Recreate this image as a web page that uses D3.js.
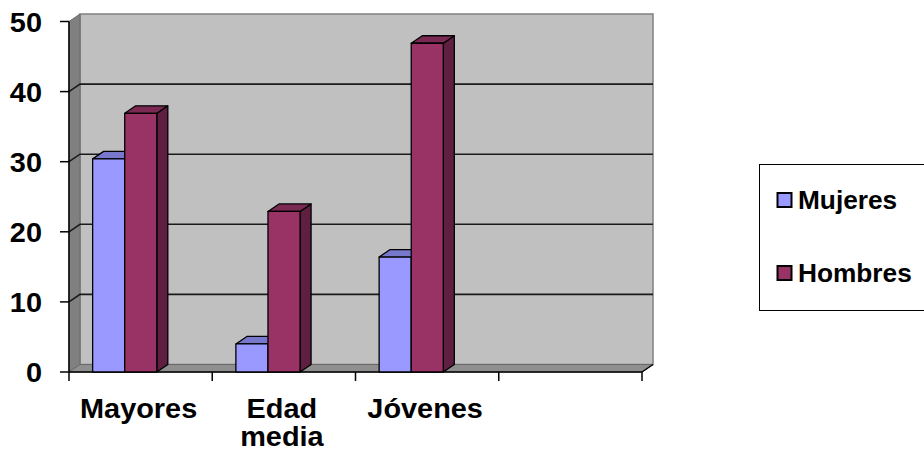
<!DOCTYPE html>
<html>
<head>
<meta charset="utf-8">
<script src="https://cdn.jsdelivr.net/npm/d3@7"></script>
<style>
  body { margin: 0; background: #fff; }
  svg { display: block; }
  text { font-family: "Liberation Sans", Arial, sans-serif; font-weight: bold; fill: #000; }
</style>
</head>
<body>
<svg id="chart" width="924" height="457"></svg>
<script>
// Data
const categories = ["Mayores", "Edad media", "Jóvenes", ""];
const seriesNames = ["Mujeres", "Hombres"];
const mujeres = [30.4, 4, 16.4];
const hombres = [36.9, 22.9, 46.9];
const yTicks = [0, 10, 20, 30, 40, 50];

const svg = d3.select("#chart");

// plot geometry (front plane) and 3d depth
const plotLeft = 69, plotRight = 642, plotBottom = 372, plotTop = 21.5;
const dx = 11, dy = -7.5;
const stretch = 1.07; // text in the picture is a bit wider than it is tall

const x = d3.scaleBand().domain(categories).range([plotLeft, plotRight]);
const y = d3.scaleLinear().domain([0, 50]).range([plotBottom, plotTop]);
const bw = x.bandwidth();
const barW = bw * 0.224;
const barOff = bw * 0.165;

const colors = {
  Mujeres: { front: "#9999ff", top: "#7777cc", side: "#6666b3" },
  Hombres: { front: "#993366", top: "#7a2952", side: "#5e1f40" }
};

// back wall
svg.append("rect")
  .attr("x", plotLeft + dx).attr("y", y(50) + dy)
  .attr("width", plotRight - plotLeft).attr("height", y(0) - y(50))
  .attr("fill", "#c0c0c0").attr("stroke", "#808080").attr("stroke-width", 1.5);

// left side wall
svg.append("polygon")
  .attr("points", [[plotLeft, y(50)], [plotLeft + dx, y(50) + dy], [plotLeft + dx, y(0) + dy], [plotLeft, y(0)]].join(" "))
  .attr("fill", "#808080").attr("stroke", "#6a6a6a").attr("stroke-width", 1);

// floor
svg.append("polygon")
  .attr("points", [[plotLeft, y(0)], [plotLeft + dx, y(0) + dy], [plotRight + dx, y(0) + dy], [plotRight, y(0)]].join(" "))
  .attr("fill", "#8f8f8f").attr("stroke", "#6a6a6a").attr("stroke-width", 1);

// gridlines (back wall + left wall)
const grid = svg.append("g").attr("stroke", "#1a1a1a").attr("stroke-width", 1.6).attr("fill", "none");
yTicks.filter(d => d > 0 && d < 50).forEach(function (d) {
  grid.append("path")
    .attr("d", "M" + plotLeft + "," + y(d) + "L" + (plotLeft + dx) + "," + (y(d) + dy) + "H" + (plotRight + dx));
});

// y axis
svg.append("line")
  .attr("x1", plotLeft).attr("x2", plotLeft).attr("y1", y(50)).attr("y2", y(0))
  .attr("stroke", "#000").attr("stroke-width", 1.5);
svg.append("g").selectAll("line").data(yTicks).join("line")
  .attr("x1", plotLeft - 9).attr("x2", plotLeft)
  .attr("y1", d => y(d)).attr("y2", d => y(d))
  .attr("stroke", "#000").attr("stroke-width", 1.5);
svg.append("g").selectAll("text").data(yTicks).join("text")
  .attr("transform", d => "translate(42," + (y(d) + 10) + ") scale(" + stretch + ",1)")
  .attr("text-anchor", "end")
  .style("font-size", "27px")
  .text(d => d);

// x axis
svg.append("line")
  .attr("x1", plotLeft).attr("x2", plotRight).attr("y1", y(0)).attr("y2", y(0))
  .attr("stroke", "#000").attr("stroke-width", 1.5);
svg.append("line")
  .attr("x1", plotRight).attr("x2", plotRight + dx).attr("y1", y(0)).attr("y2", y(0) + dy)
  .attr("stroke", "#000").attr("stroke-width", 1.5);
const xTickPos = categories.map(c => x(c)).concat([plotRight]);
svg.append("g").selectAll("line").data(xTickPos).join("line")
  .attr("x1", d => d).attr("x2", d => d)
  .attr("y1", y(0)).attr("y2", y(0) + 9)
  .attr("stroke", "#000").attr("stroke-width", 1.5);

const labels = svg.append("g").selectAll("text").data(categories).join("text")
  .attr("transform", d => "translate(" + (x(d) + bw / 2 - 2) + ",418) scale(" + stretch + ",1)")
  .attr("text-anchor", "middle")
  .style("font-size", "27px");
labels.each(function (d) {
  const words = d === "Edad media" ? ["Edad", "media"] : [d];
  d3.select(this).selectAll("tspan").data(words).join("tspan")
    .attr("x", 0).attr("dy", (w, i) => i === 0 ? 0 : 28)
    .text(w => w);
});

// 3d bars
function drawBars(values, name, idx) {
  const c = colors[name];
  const g = svg.append("g").attr("stroke", "#000").attr("stroke-width", 1.3).attr("stroke-linejoin", "round");
  values.forEach(function (v, i) {
    const x0 = x(categories[i]) + barOff + idx * barW;
    const y0 = y(0), y1 = y(v);
    g.append("polygon")
      .attr("points", [[x0 + barW, y1], [x0 + barW + dx, y1 + dy], [x0 + barW + dx, y0 + dy], [x0 + barW, y0]].join(" "))
      .attr("fill", c.side);
    g.append("polygon")
      .attr("points", [[x0, y1], [x0 + dx, y1 + dy], [x0 + barW + dx, y1 + dy], [x0 + barW, y1]].join(" "))
      .attr("fill", c.top);
    g.append("rect")
      .attr("x", x0).attr("y", y1).attr("width", barW).attr("height", y0 - y1)
      .attr("fill", c.front);
  });
}
drawBars(mujeres, "Mujeres", 0);
drawBars(hombres, "Hombres", 1);

// legend
const legend = svg.append("g");
legend.append("rect")
  .attr("x", 759.5).attr("y", 164.5).attr("width", 200).attr("height", 146)
  .attr("fill", "#fff").attr("stroke", "#000").attr("stroke-width", 1);
seriesNames.forEach(function (name, i) {
  const ly = 193 + i * 73;
  legend.append("rect")
    .attr("x", 777.5).attr("y", ly).attr("width", 14).attr("height", 14)
    .attr("fill", colors[name].front).attr("stroke", "#000").attr("stroke-width", 2);
  legend.append("text")
    .attr("transform", "translate(798," + (ly + 16) + ") scale(1.05,1)")
    .style("font-size", "25px")
    .text(name);
});
</script>
</body>
</html>
